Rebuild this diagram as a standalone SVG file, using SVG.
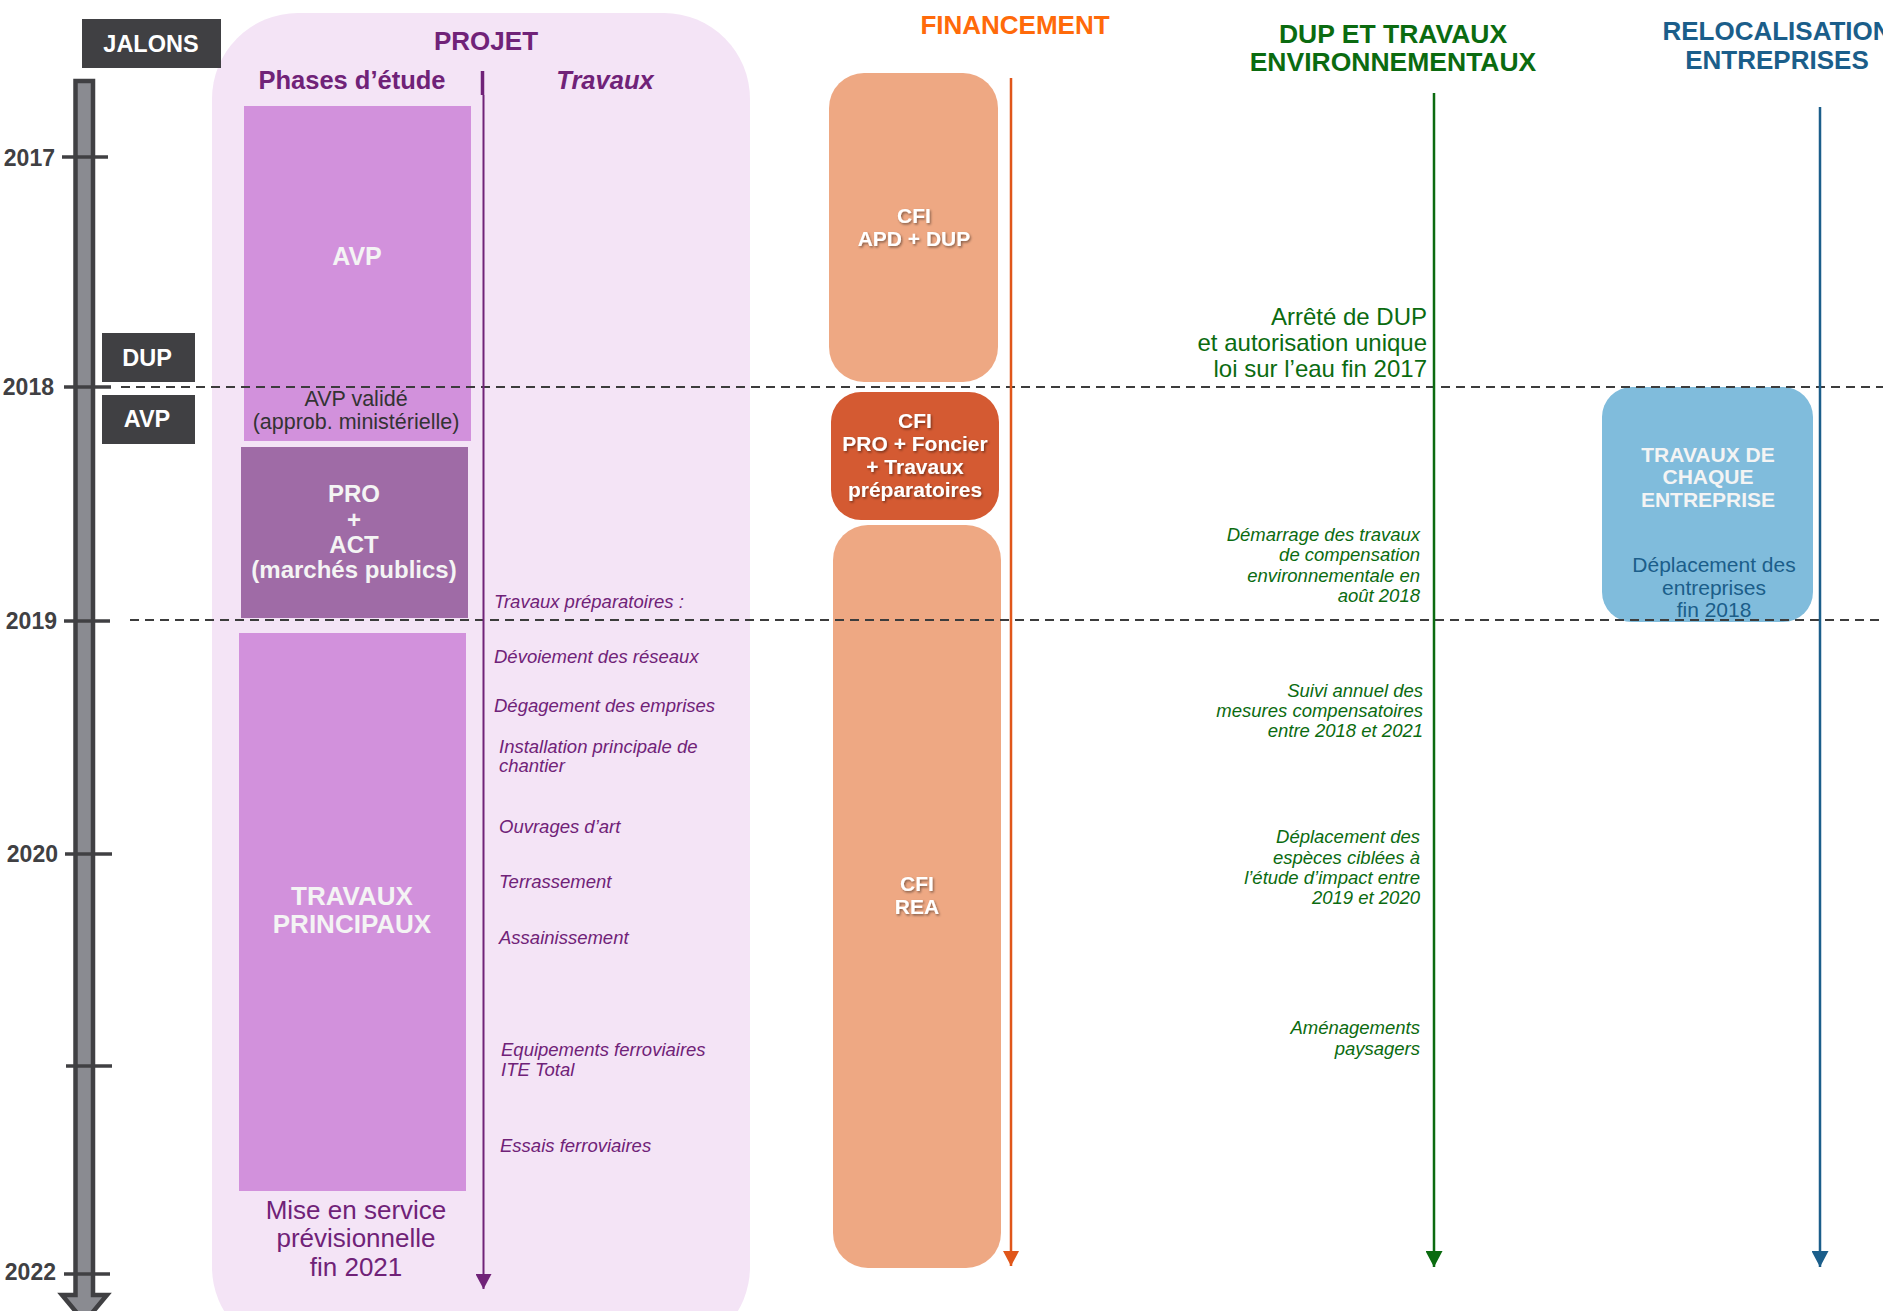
<svg xmlns="http://www.w3.org/2000/svg" width="1883" height="1311" viewBox="0 0 1883 1311">
<style>
text{font-family:"Liberation Sans",Arial,sans-serif}
.b{font-weight:bold}
.c{text-anchor:middle}
.e{text-anchor:end}
.dk{fill:#404043}
.yr{font-size:23px;font-weight:bold;fill:#404043;text-anchor:end}
.tick{stroke:#404043;stroke-width:3.5}
.dash{stroke:#3c3c3c;stroke-width:2;stroke-dasharray:9 6;fill:none}
.jw{fill:#ffffff;font-size:23.5px;font-weight:bold;text-anchor:middle}
.pu{fill:#702278}
.pi{fill:#702278;font-size:18.5px;font-style:italic}
.gi{fill:#0b6b10;font-size:18.5px;font-style:italic;text-anchor:end}
.wt{fill:#f4f4f4;font-weight:bold;text-anchor:middle}
.cf{fill:#ffffff;font-weight:bold;font-size:21px;text-anchor:middle;filter:url(#sh)}
</style>
<defs>
<filter id="sh" x="-20%" y="-20%" width="140%" height="160%"><feDropShadow dx="1.2" dy="1.5" stdDeviation="0.8" flood-color="#000" flood-opacity="0.45"/></filter>
<marker id="ap" markerUnits="userSpaceOnUse" markerWidth="16" markerHeight="16" refX="15" refY="8" orient="auto"><path d="M0,0 L15,8 L0,16 z" fill="#702278"/></marker>
<marker id="ao" markerUnits="userSpaceOnUse" markerWidth="16" markerHeight="16" refX="15" refY="8" orient="auto"><path d="M0,0 L15,8 L0,16 z" fill="#e0561a"/></marker>
<marker id="ag" markerUnits="userSpaceOnUse" markerWidth="17" markerHeight="17" refX="16" refY="8.5" orient="auto"><path d="M0,0 L16,8.5 L0,17 z" fill="#0b6b10"/></marker>
<marker id="ab" markerUnits="userSpaceOnUse" markerWidth="17" markerHeight="17" refX="16" refY="8.5" orient="auto"><path d="M0,0 L16,8.5 L0,17 z" fill="#1b5e8a"/></marker>
</defs>
<rect width="1883" height="1311" fill="#ffffff"/>

<!-- PROJET background -->
<g id="projet-bg">
<rect x="212" y="13" width="538" height="1340" rx="86" ry="86" fill="#f4e4f6"/>
<text x="486" y="50" class="b c pu" font-size="26">PROJET</text>
<text x="352" y="89" class="b c pu" font-size="25.5">Phases d’étude</text>
<text x="605" y="89" class="b c pu" font-size="25.5" font-style="italic">Travaux</text>
</g>

<!-- JALONS -->
<g id="jalons">
<rect x="82" y="19" width="139" height="49" class="dk"/>
<text x="151" y="52" class="jw">JALONS</text>
</g>

<g id="timeline">
<path d="M75.5,81 H93 V1295 H107 L84.5,1322 L62,1295 H75.5 Z" fill="#8a8b91" stroke="#404043" stroke-width="4.5"/>
<line x1="62" y1="157" x2="108" y2="157" class="tick"/>
<line x1="64" y1="387" x2="111" y2="387" class="tick"/>
<line x1="64" y1="621" x2="110" y2="621" class="tick"/>
<line x1="65" y1="854" x2="112" y2="854" class="tick"/>
<line x1="66" y1="1066" x2="112" y2="1066" class="tick"/>
<line x1="64" y1="1274" x2="110" y2="1274" class="tick"/>
<text x="55" y="166" class="yr">2017</text>
<text x="54" y="395" class="yr">2018</text>
<text x="57" y="629" class="yr">2019</text>
<text x="58" y="862" class="yr">2020</text>
<text x="56" y="1280" class="yr">2022</text>
</g>

<g id="jalon-dup">
<rect x="102" y="333" width="93" height="49" class="dk"/>
<text x="147" y="366" class="jw">DUP</text>
</g>
<g id="jalon-avp">
<rect x="102" y="395" width="93" height="49" class="dk"/>
<text x="147" y="427" class="jw">AVP</text>
</g>

<!-- Phases -->
<g id="avp">
<rect x="244" y="106" width="227" height="335" fill="#d291dc"/>
<text x="357" y="265" class="wt" font-size="25">AVP</text>
<text x="356" y="406" class="c" font-size="21.5" fill="#333333">AVP validé</text>
<text x="356" y="429" class="c" font-size="21.5" fill="#333333">(approb. ministérielle)</text>
</g>
<g id="pro">
<rect x="241" y="447" width="227" height="171" fill="#9f6ba6"/>
<text x="354" y="502" class="wt" font-size="24">PRO</text>
<text x="354" y="528" class="wt" font-size="24">+</text>
<text x="354" y="553" class="wt" font-size="24">ACT</text>
<text x="354" y="578" class="wt" font-size="24">(marchés publics)</text>
</g>
<g id="travaux-principaux">
<rect x="239" y="633" width="227" height="558" fill="#d291dc"/>
<text x="352" y="905" class="wt" font-size="26">TRAVAUX</text>
<text x="352" y="933" class="wt" font-size="26">PRINCIPAUX</text>
</g>
<g id="mise-en-service">
<text x="356" y="1219" class="c pu" font-size="26">Mise en service</text>
<text x="356" y="1247" class="c pu" font-size="26">prévisionnelle</text>
<text x="356" y="1276" class="c pu" font-size="26">fin 2021</text>
</g>

<g id="travaux-list">
<text x="494" y="608" class="pi">Travaux préparatoires :</text>
<text x="494" y="663" class="pi">Dévoiement des réseaux</text>
<text x="494" y="712" class="pi">Dégagement des emprises</text>
<text x="499" y="753" class="pi">Installation principale de</text>
<text x="499" y="772" class="pi">chantier</text>
<text x="499" y="833" class="pi">Ouvrages d’art</text>
<text x="499" y="888" class="pi">Terrassement</text>
<text x="499" y="944" class="pi">Assainissement</text>
<text x="501" y="1056" class="pi">Equipements ferroviaires</text>
<text x="501" y="1076" class="pi">ITE Total</text>
<text x="500" y="1152" class="pi">Essais ferroviaires</text>
</g>

<!-- Financement -->
<g id="financement-title">
<text x="1015" y="34" class="b c" font-size="26" fill="#ff6a0a">FINANCEMENT</text>
</g>
<g id="cfi-apd">
<rect x="829" y="73" width="169" height="309" rx="35" ry="35" fill="#eea883"/>
<text x="914" y="223" class="cf">CFI</text>
<text x="914" y="246" class="cf">APD + DUP</text>
</g>
<g id="cfi-pro">
<rect x="831" y="392" width="168" height="128" rx="30" ry="30" fill="#d45a32"/>
<text x="915" y="428" class="cf">CFI</text>
<text x="915" y="451" class="cf">PRO + Foncier</text>
<text x="915" y="474" class="cf">+ Travaux</text>
<text x="915" y="497" class="cf">préparatoires</text>
</g>
<g id="cfi-rea">
<rect x="833" y="525" width="168" height="743" rx="35" ry="35" fill="#eea883"/>
<text x="917" y="891" class="cf">CFI</text>
<text x="917" y="914" class="cf">REA</text>
</g>

<!-- DUP et travaux environnementaux -->
<g id="dup-title">
<text x="1393" y="43" class="b c" font-size="26.5" fill="#0b6b10">DUP ET TRAVAUX</text>
<text x="1393" y="71" class="b c" font-size="26.5" fill="#0b6b10">ENVIRONNEMENTAUX</text>
</g>
<g id="arrete-dup">
<text x="1427" y="325" class="e" font-size="24" fill="#0b6b10">Arrêté de DUP</text>
<text x="1427" y="351" class="e" font-size="24" fill="#0b6b10">et autorisation unique</text>
<text x="1427" y="377" class="e" font-size="24" fill="#0b6b10">loi sur l’eau fin 2017</text>
</g>
<g id="demarrage">
<text x="1420" y="541" class="gi">Démarrage des travaux</text>
<text x="1420" y="561" class="gi">de compensation</text>
<text x="1420" y="582" class="gi">environnementale en</text>
<text x="1420" y="602" class="gi">août 2018</text>
</g>
<g id="suivi">
<text x="1423" y="697" class="gi">Suivi annuel des</text>
<text x="1423" y="717" class="gi">mesures compensatoires</text>
<text x="1423" y="737" class="gi">entre 2018 et 2021</text>
</g>
<g id="deplacement-especes">
<text x="1420" y="843" class="gi">Déplacement des</text>
<text x="1420" y="864" class="gi">espèces ciblées à</text>
<text x="1420" y="884" class="gi">l’étude d’impact entre</text>
<text x="1420" y="904" class="gi">2019 et 2020</text>
</g>
<g id="amenagements">
<text x="1420" y="1034" class="gi">Aménagements</text>
<text x="1420" y="1055" class="gi">paysagers</text>
</g>

<!-- Relocalisation -->
<g id="reloc-title">
<text x="1777" y="40" class="b c" font-size="26" fill="#1b5e8a">RELOCALISATION</text>
<text x="1777" y="69" class="b c" font-size="26" fill="#1b5e8a">ENTREPRISES</text>
</g>
<g id="travaux-entreprise">
<rect x="1602" y="387" width="211" height="235" rx="30" ry="30" fill="#80bcdc"/>
<text x="1708" y="462" class="wt" font-size="21" fill="#ffffff">TRAVAUX DE</text>
<text x="1708" y="484" class="wt" font-size="21" fill="#ffffff">CHAQUE</text>
<text x="1708" y="507" class="wt" font-size="21" fill="#ffffff">ENTREPRISE</text>
<text x="1714" y="572" class="c" font-size="21" fill="#1b5e8a">Déplacement des</text>
<text x="1714" y="595" class="c" font-size="21" fill="#1b5e8a">entreprises</text>
<text x="1714" y="617" class="c" font-size="21" fill="#1b5e8a">fin 2018</text>
</g>

<!-- year separators -->
<g id="separators">
<line x1="121" y1="387" x2="1883" y2="387" class="dash"/>
<line x1="130" y1="620" x2="1883" y2="620" class="dash"/>
</g>

<!-- connectors -->
<g id="connectors">
<line x1="482.5" y1="71" x2="482.5" y2="95" stroke="#702278" stroke-width="3.5"/>
<line x1="483.5" y1="95" x2="483.5" y2="1289" stroke="#702278" stroke-width="2" marker-end="url(#ap)"/>
<line x1="1011" y1="78" x2="1011" y2="1266" stroke="#e0561a" stroke-width="2.5" marker-end="url(#ao)"/>
<line x1="1434" y1="93" x2="1434" y2="1267" stroke="#0b6b10" stroke-width="2.5" marker-end="url(#ag)"/>
<line x1="1820" y1="107" x2="1820" y2="1267" stroke="#1b5e8a" stroke-width="2.5" marker-end="url(#ab)"/>
</g>
</svg>
